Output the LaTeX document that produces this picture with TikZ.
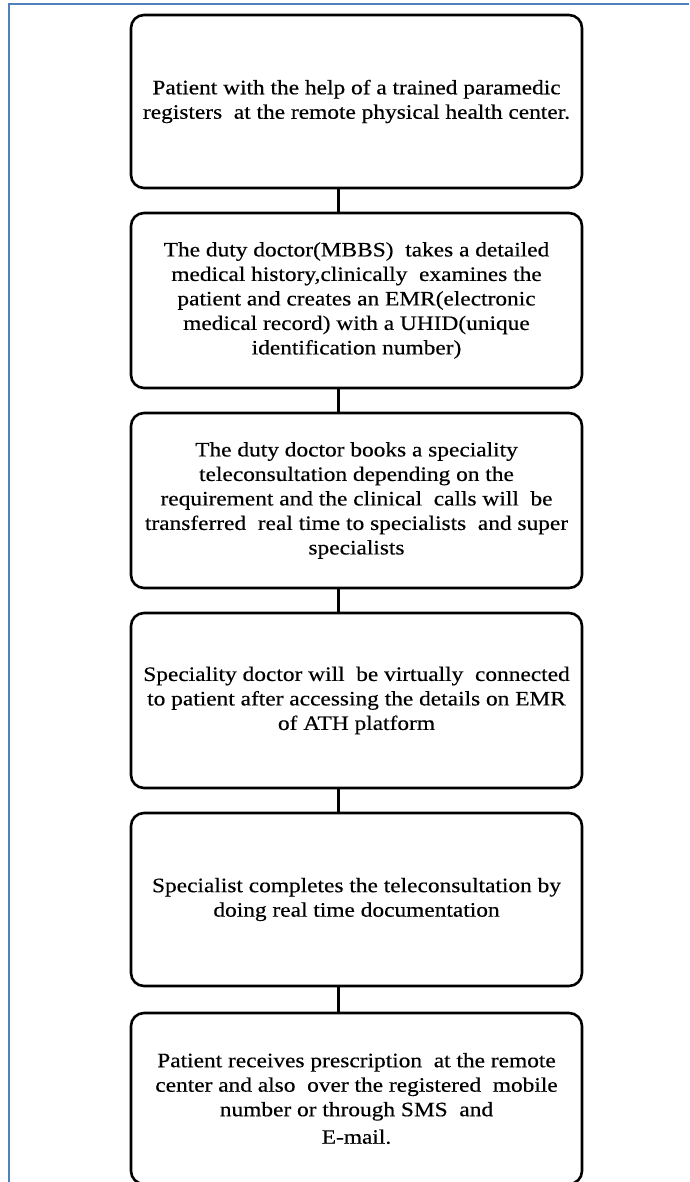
\documentclass[tikz,border=0pt]{standalone}
\usepackage{fontspec}
\setmainfont[FakeStretch=1.14,FakeBold=0.4]{Liberation Serif}
\definecolor{frameblue}{HTML}{4F81BD}
\begin{document}
\begin{tikzpicture}[x=1pt,y=-1pt,
  stepbox/.style={draw=black, line width=2.6pt, rounded corners=13pt,
    minimum width=451pt, align=center, inner sep=0pt,
    font=\fontsize{20.5}{24.5}\selectfont},
  link/.style={draw=black, line width=2.6pt}]
\useasboundingbox (0,0) rectangle (689,1182);
\draw[frameblue, line width=2pt] (9,1182) -- (9,4) -- (689,4);
\node[stepbox, minimum height=173pt] (b1) at (356.5,101.5)
  {Patient with the help of a trained paramedic\\registers\ \ at the remote physical health center.};
\node[stepbox, minimum height=175pt] (b2) at (356.5,300.5)
  {The duty doctor(MBBS)\ \ takes a detailed\\medical history,clinically\ \ examines the\\patient and creates an EMR(electronic\\medical record) with a UHID(unique\\identification number)};
\node[stepbox, minimum height=175pt] (b3) at (356.5,500.5)
  {The duty doctor books a speciality\\teleconsultation depending on the\\requirement and the clinical\ \ calls will\ \ be\\transferred\ \ real time to specialists\ \ and super\\specialists};
\node[stepbox, minimum height=175pt] (b4) at (356.5,700.5)
  {Speciality doctor will\ \ be virtually\ \ connected\\to patient after accessing the details on EMR\\of ATH platform};
\node[stepbox, minimum height=173pt] (b5) at (356.5,899.5)
  {Specialist completes the teleconsultation by\\doing real time documentation};
\node[stepbox, minimum height=171pt] (b6) at (356.5,1098.5)
  {Patient receives prescription\ \ at the remote\\center and also\ \ over the registered\ \ mobile\\number or through SMS\ \ and\\[3pt]E-mail.};
\foreach \a/\b in {b1/b2,b2/b3,b3/b4,b4/b5,b5/b6}
  \draw[link] ([xshift=-18pt]\a.south) -- ([xshift=-18pt]\b.north);
\end{tikzpicture}
\end{document}
